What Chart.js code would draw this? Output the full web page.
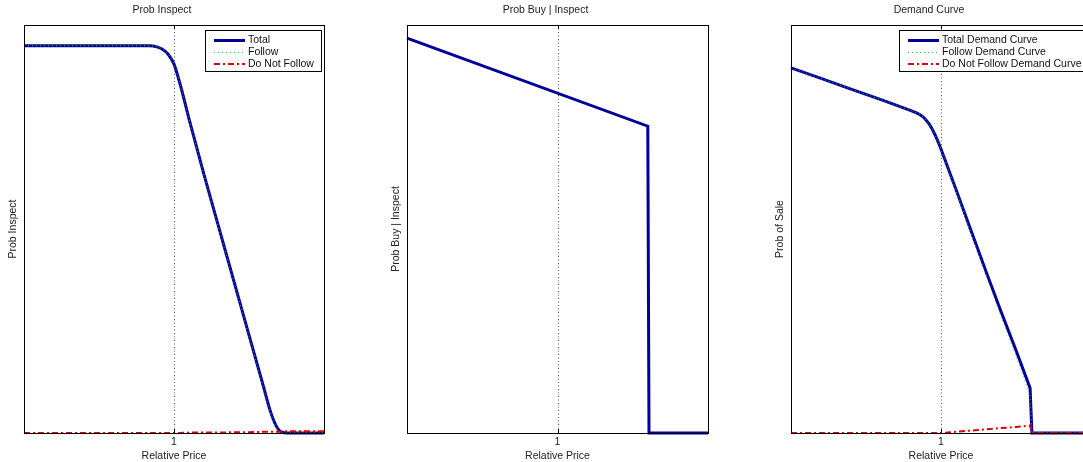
<!DOCTYPE html>
<html><head><meta charset="utf-8">
<script src="https://cdn.jsdelivr.net/npm/chart.js@4.4.0/dist/chart.umd.min.js"></script>
<style>
html,body{margin:0;padding:0;background:#fff;overflow:hidden;width:1083px;height:462px;}
.p{position:absolute;top:0;height:462px;}
</style></head><body>
<div class="p" style="left:0;width:330px"><canvas id="c1"></canvas></div>
<div class="p" style="left:383px;width:331px"><canvas id="c2"></canvas></div>
<div class="p" style="left:767px;width:330px"><canvas id="c3"></canvas></div>
<script>
// ---- data ----
const tickValues = [1];
const tickLabels = ['1'];

// Panel 1: Prob Inspect
const p1Price = [0.5, 0.6, 0.7, 0.8, 0.9, 0.92, 0.94, 0.96, 0.98, 1.0, 1.02, 1.05, 1.1, 1.15, 1.2, 1.25, 1.3, 1.32, 1.33, 1.34, 1.35, 1.36, 1.37, 1.38, 1.4, 1.5];
const p1Total = [0.949, 0.949, 0.949, 0.949, 0.949, 0.949, 0.947, 0.941, 0.929, 0.904, 0.856, 0.77, 0.633, 0.502, 0.371, 0.24, 0.109, 0.056, 0.035, 0.018, 0.007, 0.002, 0.0005, 0, 0, 0];
const p1Follow = [0.949, 0.949, 0.949, 0.949, 0.949, 0.949, 0.947, 0.941, 0.929, 0.904, 0.856, 0.769, 0.632, 0.501, 0.369, 0.238, 0.106, 0.053, 0.032, 0.015, 0.004, 0, 0, 0, 0, 0];
const p1NotFollow = [0, 0, 0, 0, 0, 0, 0, 0, 0, 0, 0, 0.001, 0.001, 0.001, 0.002, 0.002, 0.003, 0.003, 0.003, 0.003, 0.003, 0.004, 0.004, 0.004, 0.004, 0.004];

// Panel 2: Prob Buy | Inspect
const p2Price = [0.5, 1.3, 1.304, 1.5];
const p2Total = [0.968, 0.752, 0, 0];

// Panel 3: Demand Curve
const p3Price = [0.5, 0.6, 0.7, 0.8, 0.9, 0.92, 0.93, 0.94, 0.95, 0.96, 0.97, 0.98, 0.99, 1.0, 1.02, 1.05, 1.1, 1.15, 1.2, 1.25, 1.297, 1.303, 1.5];
const p3Total = [0.895, 0.869, 0.843, 0.817, 0.79, 0.784, 0.780, 0.775, 0.767, 0.758, 0.746, 0.731, 0.714, 0.696, 0.656, 0.597, 0.496, 0.396, 0.298, 0.203, 0.11, 0, 0];
const p3Follow = [0.895, 0.869, 0.843, 0.817, 0.79, 0.784, 0.780, 0.775, 0.767, 0.758, 0.746, 0.731, 0.714, 0.696, 0.655, 0.594, 0.49, 0.387, 0.286, 0.188, 0.092, 0, 0];
const p3NotFollow = [0, 0, 0, 0, 0, 0, 0, 0, 0, 0, 0, 0, 0, 0, 0.001, 0.003, 0.006, 0.009, 0.012, 0.015, 0.018, 0, 0];

const legend1 = ['Total', 'Follow', 'Do Not Follow'];
const legend3 = ['Total Demand Curve', 'Follow Demand Curve', 'Do Not Follow Demand Curve'];

// ---- helpers ----
const FAM = "'Liberation Sans', Arial, Helvetica, sans-serif";
const FONT = {family: FAM, size: 10.5, weight: 'normal'};
const pts = (xs, ys) => xs.map((x, i) => ({x: x, y: ys[i]}));

const STY = {
  total: {borderColor: '#00009a', borderWidth: 3, borderDash: [], order: 3},
  follow: {borderColor: '#44bb44', borderWidth: 1, borderDash: [1, 3], order: 2},
  notf: {borderColor: '#dd0000', borderWidth: 2, borderDash: [6, 3, 2, 3], order: 1}
};
function ds(kind, data, smooth) {
  const o = Object.assign({data: data, pointRadius: 0, tension: 0, fill: false, clip: 6, borderCapStyle: 'butt', borderJoinStyle: 'miter'}, STY[kind]);
  if (smooth) o.cubicInterpolationMode = 'monotone';
  return o;
}

const framePlugin = {
  id: 'frameBox',
  beforeDatasetsDraw(chart) {
    const {ctx, chartArea: ca, scales} = chart;
    ctx.save();
    ctx.strokeStyle = '#555';
    ctx.lineWidth = 1;
    ctx.setLineDash([1, 2.5]);
    tickValues.forEach(v => {
      const x = Math.round(scales.x.getPixelForValue(v)) + 0.5;
      ctx.beginPath(); ctx.moveTo(x, ca.top); ctx.lineTo(x, ca.bottom); ctx.stroke();
    });
    ctx.restore();
  },
  afterDatasetsDraw(chart, args, opts) {
    const {ctx, chartArea: ca, scales} = chart;
    ctx.save();
    ctx.strokeStyle = '#000';
    ctx.lineWidth = 1;
    ctx.setLineDash([]);
    ctx.strokeRect(Math.round(ca.left) + 0.5, Math.round(ca.top) + 0.5, Math.round(ca.right - ca.left), Math.round(ca.bottom - ca.top));
    tickValues.forEach(v => {
      const x = Math.round(scales.x.getPixelForValue(v)) + 0.5;
      ctx.beginPath();
      ctx.moveTo(x, ca.top); ctx.lineTo(x, ca.top + 4);
      ctx.moveTo(x, ca.bottom); ctx.lineTo(x, ca.bottom - 4);
      ctx.stroke();
    });
    const labels = opts && opts.labels;
    if (labels) {
      ctx.font = '10.5px ' + FAM;
      const maxW = Math.max(...labels.map(l => ctx.measureText(l).width));
      const w = Math.round(maxW + 50), h = 41;
      const right = Math.round(ca.right) - 3;
      const left = right - w;
      const top = Math.round(ca.top) + 5;
      ctx.fillStyle = '#fff';
      ctx.fillRect(left, top, w, h);
      ctx.strokeStyle = '#000';
      ctx.strokeRect(left + 0.5, top + 0.5, w, h);
      const rows = [9.5, 21.5, 33.5];
      const dsets = chart.data.datasets;
      labels.forEach((l, i) => {
        const d = dsets[i];
        const y = top + rows[i];
        ctx.save();
        ctx.strokeStyle = d.borderColor;
        ctx.lineWidth = d.borderWidth;
        ctx.setLineDash(d.borderDash || []);
        const yy = Math.round(y) + (d.borderWidth % 2 ? 0.5 : 0);
        ctx.beginPath(); ctx.moveTo(left + 9, yy); ctx.lineTo(left + 40, yy); ctx.stroke();
        ctx.restore();
        ctx.fillStyle = '#111';
        ctx.textBaseline = 'middle';
        ctx.textAlign = 'left';
        ctx.fillText(l, left + 43, y + 0.5);
      });
    }
    ctx.restore();
  }
};

function makeOptions(title, ytitle, legendLabels) {
  return {
    responsive: true, maintainAspectRatio: false, animation: false,
    layout: {padding: {left: 0, right: 6, top: 0, bottom: 0}},
    plugins: {
      legend: {display: false}, tooltip: {enabled: false},
      title: {display: true, text: title, color: '#222', font: FONT, padding: {top: 4, bottom: 8.4}},
      frameBox: {labels: legendLabels}
    },
    scales: {
      x: {
        type: 'linear', min: 0.5, max: 1.5,
        grid: {display: false, drawTicks: false}, border: {display: false},
        afterBuildTicks: s => { s.ticks = tickValues.map(v => ({value: v})); },
        ticks: {color: '#222', font: FONT, padding: 3, maxRotation: 0,
          callback: v => { const i = tickValues.indexOf(v); return i >= 0 ? tickLabels[i] : ''; }},
        title: {display: true, text: 'Relative Price', color: '#222', font: FONT, padding: {top: 0, bottom: 0}},
        afterFit: s => { s.height = 29; }
      },
      y: {
        min: 0, max: 1,
        grid: {display: false, drawTicks: false}, border: {display: false},
        ticks: {display: false},
        title: {display: true, text: ytitle, color: '#222', font: FONT, padding: {top: 6.7, bottom: 0}},
        afterFit: s => { s.width = 24; }
      }
    }
  };
}

new Chart(document.getElementById('c1'), {
  type: 'line',
  data: {datasets: [ds('total', pts(p1Price, p1Total), true), ds('follow', pts(p1Price, p1Follow), true), ds('notf', pts(p1Price, p1NotFollow))]},
  options: makeOptions('Prob Inspect', 'Prob Inspect', legend1),
  plugins: [framePlugin]
});
new Chart(document.getElementById('c2'), {
  type: 'line',
  data: {datasets: [ds('total', pts(p2Price, p2Total))]},
  options: makeOptions('Prob Buy | Inspect', 'Prob Buy | Inspect', null),
  plugins: [framePlugin]
});
new Chart(document.getElementById('c3'), {
  type: 'line',
  data: {datasets: [ds('total', pts(p3Price, p3Total)), ds('follow', pts(p3Price, p3Follow)), ds('notf', pts(p3Price, p3NotFollow))]},
  options: makeOptions('Demand Curve', 'Prob of Sale', legend3),
  plugins: [framePlugin]
});
</script>
</body></html>
